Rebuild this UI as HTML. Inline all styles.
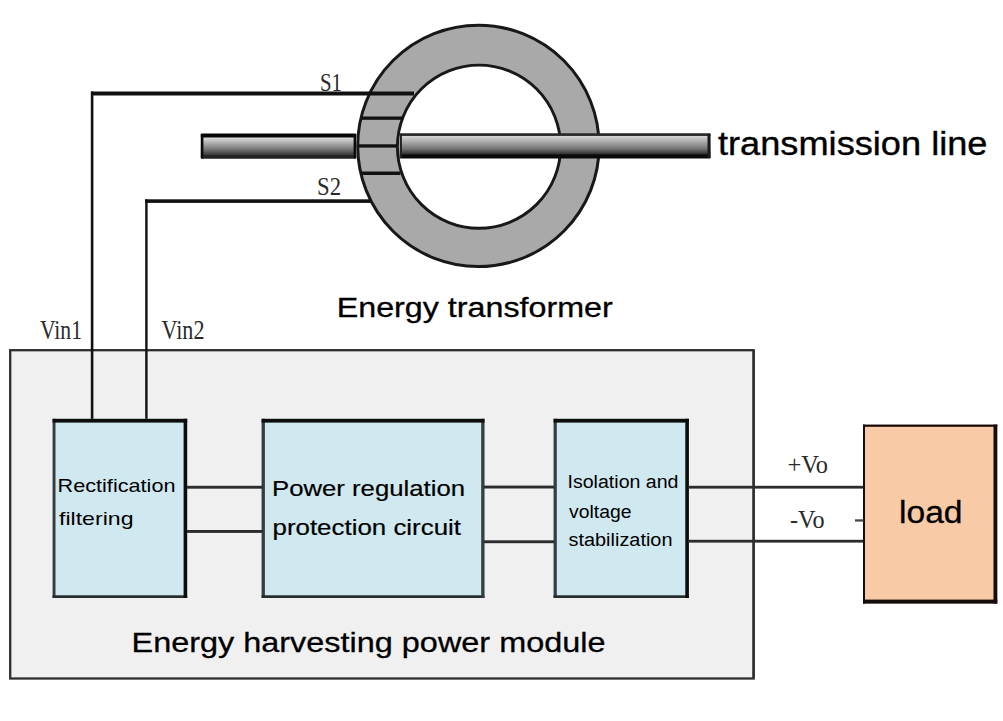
<!DOCTYPE html>
<html><head><meta charset="utf-8">
<style>
html,body{margin:0;padding:0;background:#fff;}
body{width:1003px;height:721px;overflow:hidden;}
svg{display:block;}
text{font-family:"Liberation Sans",sans-serif;fill:#000;}
.se{font-family:"Liberation Serif",serif;fill:#2a2a2a;}
</style></head><body>
<svg width="1003" height="721" viewBox="0 0 1003 721">
<defs>
<linearGradient id="bar" gradientUnits="userSpaceOnUse" x1="0" y1="133.300" x2="0" y2="158.600">
<stop offset="0" stop-color="#2a2a2a"/>
<stop offset="0.085" stop-color="#262626"/>
<stop offset="0.115" stop-color="#d6d6d6"/>
<stop offset="0.36" stop-color="#a6a6a6"/>
<stop offset="0.61" stop-color="#747474"/>
<stop offset="0.79" stop-color="#3c3c3c"/>
<stop offset="0.86" stop-color="#0a0a0a"/>
<stop offset="1" stop-color="#0a0a0a"/>
</linearGradient>
<linearGradient id="barL" gradientUnits="userSpaceOnUse" x1="0" y1="133.500" x2="0" y2="158.800">
<stop offset="0" stop-color="#050505"/>
<stop offset="0.14" stop-color="#050505"/>
<stop offset="0.175" stop-color="#dadada"/>
<stop offset="0.40" stop-color="#a8a8a8"/>
<stop offset="0.65" stop-color="#707070"/>
<stop offset="0.84" stop-color="#3a3a3a"/>
<stop offset="0.88" stop-color="#222"/>
<stop offset="1" stop-color="#222"/>
</linearGradient>
</defs>
<rect width="1003" height="721" fill="#fff"/>
<!-- outer module box -->
<rect x="10.200" y="350.200" width="743.400" height="328.300" fill="#f0f0f0" stroke="#2e2e2e" stroke-width="2.300"/>
<!-- ring -->
<circle cx="478.400" cy="145.900" r="120.700" fill="#a9a9a9" stroke="#181818" stroke-width="3"/>
<circle cx="479" cy="146.700" r="81.600" fill="#fff" stroke="#181818" stroke-width="2.900"/>
<!-- bar -->
<rect x="200.800" y="133.500" width="155.400" height="25.300" rx="1" fill="url(#barL)"/>
<rect x="399.700" y="133.300" width="310.800" height="25.300" rx="1" fill="url(#bar)"/>
<rect x="200.800" y="134" width="2.600" height="24.300" fill="#0a0a0a"/>
<rect x="353.600" y="134" width="2.600" height="24.300" fill="#0a0a0a"/>
<rect x="399.700" y="133.800" width="2.200" height="24.300" fill="#222"/>
<rect x="707.500" y="133.800" width="3" height="24.300" fill="#1a1a1a"/>
<!-- windings -->
<g fill="#111">
<rect x="91" y="91.500" width="323" height="4"/>
<rect x="90.800" y="91.500" width="2.600" height="329"/>
<rect x="145.200" y="199.300" width="225.800" height="3.600"/>
<rect x="145.200" y="199.300" width="2.400" height="221"/>
<rect x="361.500" y="116.500" width="41.500" height="3.300"/>
<rect x="358" y="144.300" width="39" height="3.300"/>
<rect x="360.500" y="171.500" width="40" height="3.500"/>
</g>
<!-- blue boxes -->
<rect x="52.6" y="418.8" width="134.6" height="179.2" fill="#d0e8ef"/><rect x="52.6" y="418.8" width="2.9" height="179.2" fill="#363d40"/><rect x="52.6" y="595.3" width="134.6" height="2.7" fill="#262b2c"/><rect x="183.6" y="418.8" width="3.6" height="179.2" fill="#0c0c0c"/><rect x="52.6" y="418.8" width="134.6" height="3.8" fill="#0c0c0c"/>
<rect x="261.6" y="418.8" width="222.9" height="179.2" fill="#d0e8ef"/><rect x="261.6" y="418.8" width="3.3" height="179.2" fill="#363d40"/><rect x="261.6" y="595.3" width="222.9" height="2.7" fill="#262b2c"/><rect x="481.2" y="418.8" width="3.3" height="179.2" fill="#363d40"/><rect x="261.6" y="418.8" width="222.9" height="3.8" fill="#0c0c0c"/>
<rect x="553.6" y="418.8" width="135.3" height="179.2" fill="#d0e8ef"/><rect x="553.6" y="418.8" width="3.2" height="179.2" fill="#363d40"/><rect x="553.6" y="595.3" width="135.3" height="2.7" fill="#262b2c"/><rect x="685.3" y="418.8" width="3.6" height="179.2" fill="#0c0c0c"/><rect x="553.6" y="418.8" width="135.3" height="3.8" fill="#0c0c0c"/>
<!-- connectors -->
<g fill="#2c2c2c">
<rect x="187" y="485.800" width="75.500" height="2.900"/><rect x="187" y="530" width="75.500" height="2.900"/>
<rect x="484" y="485.600" width="70" height="2.900"/><rect x="484" y="540.300" width="70" height="2.900"/>
<rect x="688.500" y="485.800" width="175" height="2.800"/><rect x="688.500" y="539.800" width="175" height="2.800"/>
</g>
<rect x="752.500" y="350" width="2.300" height="328" fill="#2e2e2e"/>
<!-- load -->
<rect x="863" y="424.600" width="134.300" height="179" fill="#f9caa6"/>
<g fill="#150c0c">
<rect x="863" y="424.600" width="134.300" height="2.200"/><rect x="863" y="424.600" width="2" height="179"/><rect x="993.500" y="424.600" width="3.800" height="179"/><rect x="863" y="599.600" width="134.300" height="4"/>
</g>
<rect x="855" y="519.300" width="8.500" height="2.300" fill="#484848"/>
<!-- text -->
<text stroke="#000" stroke-width="0.35" x="718" y="154.500" font-size="32.500" textLength="269.500" lengthAdjust="spacingAndGlyphs">transmission line</text>
<text stroke="#000" stroke-width="0.3" x="336.700" y="317" font-size="27.700" textLength="276" lengthAdjust="spacingAndGlyphs">Energy transformer</text>
<text stroke="#000" stroke-width="0.3" x="131.500" y="652" font-size="28.300" textLength="474" lengthAdjust="spacingAndGlyphs">Energy harvesting power module</text>
<text stroke="#000" stroke-width="0.2" x="272" y="496" font-size="21.600" textLength="193" lengthAdjust="spacingAndGlyphs">Power regulation</text>
<text stroke="#000" stroke-width="0.2" x="272.500" y="534.500" font-size="21.600" textLength="188.500" lengthAdjust="spacingAndGlyphs">protection circuit</text>
<text x="57.500" y="492" font-size="18.400" textLength="118" lengthAdjust="spacingAndGlyphs">Rectification</text>
<text x="59" y="525" font-size="18.400" textLength="74.500" lengthAdjust="spacingAndGlyphs">filtering</text>
<text x="567.500" y="488.300" font-size="17.600" textLength="111" lengthAdjust="spacingAndGlyphs">Isolation and</text>
<text x="569" y="517.500" font-size="17.600" textLength="62.500" lengthAdjust="spacingAndGlyphs">voltage</text>
<text x="568.500" y="546" font-size="17.600" textLength="104" lengthAdjust="spacingAndGlyphs">stabilization</text>
<text stroke="#000" stroke-width="0.3" x="899" y="522.500" font-size="31" textLength="63.500" lengthAdjust="spacingAndGlyphs">load</text>
<text class="se" x="40" y="339.300" font-size="27" textLength="42" lengthAdjust="spacingAndGlyphs">Vin1</text>
<text class="se" x="161.500" y="339.300" font-size="27" textLength="43" lengthAdjust="spacingAndGlyphs">Vin2</text>
<text class="se" x="320" y="91" font-size="26" textLength="22" lengthAdjust="spacingAndGlyphs">S1</text>
<text class="se" x="317" y="195" font-size="26" textLength="24" lengthAdjust="spacingAndGlyphs">S2</text>
<text class="se" x="787.500" y="472.500" font-size="25" textLength="40.500" lengthAdjust="spacingAndGlyphs">+Vo</text>
<text class="se" x="790" y="528" font-size="25" textLength="34.500" lengthAdjust="spacingAndGlyphs">-Vo</text>
</svg>
</body></html>
